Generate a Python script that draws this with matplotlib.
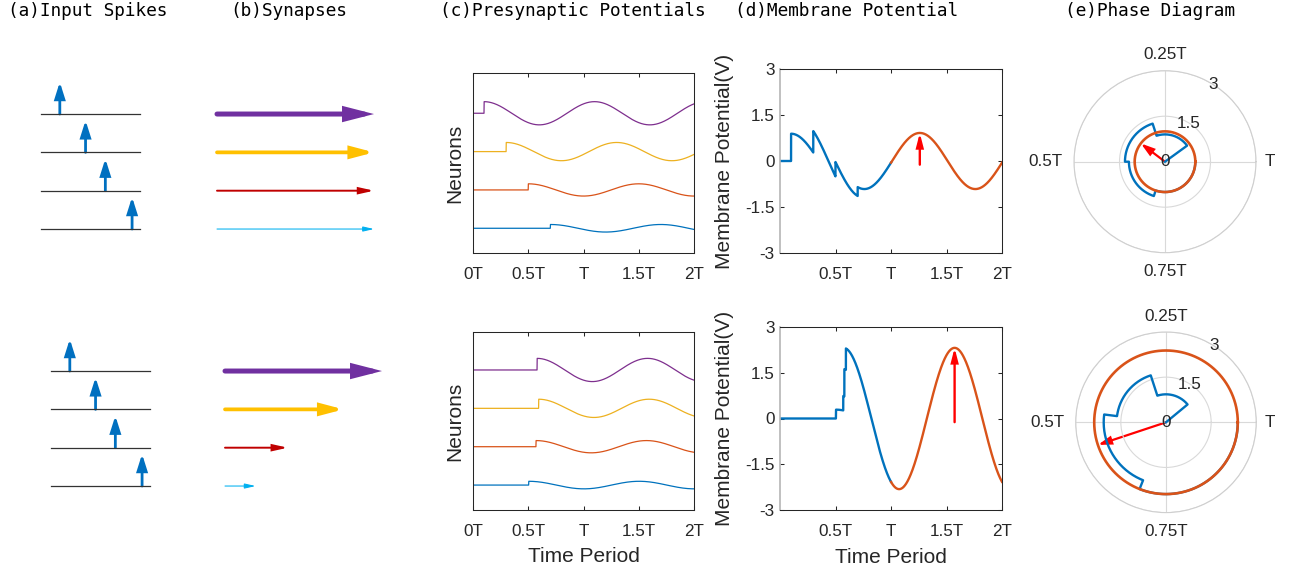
import numpy as np
import matplotlib
matplotlib.use('Agg')
import matplotlib.pyplot as plt
from matplotlib.patches import FancyArrowPatch

# ---------------- data ----------------
titles = ['(a)Input Spikes', '(b)Synapses', '(c)Presynaptic Potentials',
          '(d)Membrane Potential', '(e)Phase Diagram']

# (a) spike positions along each input line (fraction of line length), top line first
spike_pos = [0.19, 0.45, 0.65, 0.92]

# (b) relative synapse arrow lengths, purple / yellow / red / cyan
syn_len_top = [1.0, 1.0, 1.0, 1.0]
syn_len_bot = [1.0, 0.755, 0.40, 0.195]

# (c)/(d) synaptic weights and arrival times (in periods T), purple / yellow / orange / blue
weights = [0.89, 0.70, 0.47, 0.29]
arrive_top = [0.10, 0.30, 0.50, 0.70]
arrive_bot = [0.58, 0.594, 0.57, 0.504]
presyn_scale = 0.34
neuron_rows = [4, 3, 2, 1]

time_ticks = [0, 0.5, 1, 1.5, 2]
time_labels = ['0T', '0.5T', 'T', '1.5T', '2T']
v_ticks = [-3, -1.5, 0, 1.5, 3]
v_labels = ['-3', '-1.5', '0', '1.5', '3']

# (e) phase diagram: step phases (T) and radii of the blue trace, red arrow phase
polar_step_top = [0.10, 0.30, 0.50, 0.70]
polar_r_top = [0.90, 1.32, 1.19, 1.00]
polar_step_bot = [0.11, 0.30, 0.48, 0.69]
polar_r_bot = [0.93, 1.64, 2.07, 2.385]
arrow_phase_top = 0.397
arrow_phase_bot = 0.551
theta_labels = ['T', '0.25T', '0.5T', '0.75T']

# ---------------- styles ----------------
syn_colors = ['#7030A0', '#FFC000', '#C00000', '#00B0F0']
syn_lw = [3.6, 2.7, 1.4, 0.75]
syn_head = [(14, 3.6), (12.5, 3.3), (8.5, 1.9), (6.5, 1.5)]
neuron_colors = ['#7E2F8E', '#EDB120', '#D95319', '#0072BD']
BLUE = '#0072BD'
ORANGE = '#D95319'
TXT = '#262626'

plt.rcParams['font.family'] = ['Liberation Sans', 'DejaVu Sans']

W, H = 1289, 574
fig = plt.figure(figsize=(W / 100, H / 100), dpi=100)


def px_axes(l, t, r, b, **kw):
    return fig.add_axes([l / W, 1 - b / H, (r - l) / W, (b - t) / H], **kw)


def arrow(ax, p0, p1, color, lw, hl, hw):
    a = FancyArrowPatch(p0, p1, arrowstyle=f'-|>,head_length={hl},head_width={hw}',
                        mutation_scale=1, lw=lw, color=color, shrinkA=0, shrinkB=0,
                        capstyle='round', joinstyle='miter', clip_on=False)
    ax.add_patch(a)


def presyn(t, ti, wi):
    return np.where(t >= ti, wi * np.cos(2 * np.pi * (t - ti)), 0.0)


title_x = [8, 230, 440, 735, 1065]
for s, x in zip(titles, title_x):
    fig.text(x / W, 1 - 11 / H, s, family='DejaVu Sans Mono', fontsize=12.8,
             ha='left', va='center', color='black')

t = np.linspace(0, 2, 4001)

rows_px = [(75.7, 248.2), (332.7, 505.2)]
a_x = [(41, 140), (51, 150)]
b_x = [(217, 374), (225, 382)]
c_box = [(473, 73, 694, 253), (473, 332, 694, 510)]
c_ylim = [(0.355, 5.05), (0.35, 4.99)]
d_box = [(780, 69, 1002, 253), (780, 327, 1002, 510)]
e_box = [(1074, 70.7, 1256, 252.7), (1075.7, 332, 1256.3, 512.6)]

for k in range(2):
    top, bot = rows_px[k]
    # (a) input spikes
    ax = px_axes(a_x[k][0], top, a_x[k][1], bot)
    ax.set_xlim(0, 1)
    ax.set_ylim(0.5, 5.0)
    ax.axis('off')
    for row, sp in zip(neuron_rows, spike_pos):
        ax.plot([0, 1], [row, row], color='#333333', lw=0.9, clip_on=False)
        arrow(ax, (sp, row), (sp, row + 0.835), '#0070C0', 2.0, 9.5, 3.0)

    # (b) synapses
    ax = px_axes(b_x[k][0], top, b_x[k][1], bot)
    ax.set_xlim(0, 1)
    ax.set_ylim(0.5, 5.0)
    ax.axis('off')
    lens = syn_len_top if k == 0 else syn_len_bot
    for i, row in enumerate(neuron_rows):
        arrow(ax, (0, row), (lens[i], row), syn_colors[i], syn_lw[i], *syn_head[i])

    arrive = arrive_top if k == 0 else arrive_bot

    # (c) presynaptic potentials
    ax = px_axes(*c_box[k])
    for i, row in enumerate(neuron_rows):
        ax.plot(t, row + presyn_scale * presyn(t, arrive[i], weights[i]),
                color=neuron_colors[i], lw=0.9)
    ax.set_xlim(0, 2)
    ax.set_ylim(*c_ylim[k])
    ax.set_yticks([])
    ax.set_xticks(time_ticks, time_labels)
    ax.set_ylabel('Neurons', fontsize=15, color=TXT)
    ax.yaxis.label.set_va('center')
    ax.yaxis.set_label_coords(-0.081, 0.5)
    if k == 1:
        ax.set_xlabel('Time Period', fontsize=15, color=TXT)
        ax.xaxis.label.set_va('center')
        ax.xaxis.set_label_coords(0.5, -0.264)
    ax.tick_params(direction='in', length=3, width=0.75, top=True, right=True,
                   labelsize=12.3, colors=TXT)
    ax.tick_params(axis='x', pad=10)
    for sp in ax.spines.values():
        sp.set_linewidth(0.75)
        sp.set_color(TXT)

    # (d) membrane potential
    ax = px_axes(*d_box[k])
    v = sum(presyn(t, arrive[i], weights[i]) for i in range(4))
    first = t <= 1
    ax.plot(t[first], v[first], color=BLUE, lw=1.7)
    ax.plot(t[~first], v[~first], color=ORANGE, lw=1.7)
    late = t >= 1
    ip = np.argmax(np.where(late, v, -np.inf))
    arrow(ax, (t[ip], -0.12), (t[ip], v[ip]), '#FF0000', 1.7, 7.8, 2.0)
    ax.set_xlim(0, 2)
    ax.set_ylim(-3, 3)
    ax.set_xticks(time_ticks[1:], time_labels[1:])
    ax.set_yticks(v_ticks, v_labels)
    ax.set_ylabel('Membrane Potential(V)', fontsize=15, color=TXT)
    ax.yaxis.label.set_va('center')
    ax.yaxis.set_label_coords(-0.248, 0.5)
    if k == 1:
        ax.set_xlabel('Time Period', fontsize=15, color=TXT)
        ax.xaxis.label.set_va('center')
        ax.xaxis.set_label_coords(0.5, -0.257)
    ax.tick_params(direction='in', length=3, width=0.75, top=True, right=True,
                   labelsize=12.3, colors=TXT)
    ax.tick_params(axis='x', pad=10)
    ax.tick_params(axis='y', pad=4)
    for sp in ax.spines.values():
        sp.set_linewidth(0.75)
        sp.set_color(TXT)
    ax.spines['left'].set_color('#b5b5b5')
    ax.spines['left'].set_linewidth(1.2)

    # (e) phase diagram
    ax = px_axes(*e_box[k], projection='polar')
    steps = polar_step_top if k == 0 else polar_step_bot
    radii = polar_r_top if k == 0 else polar_r_bot
    th = [0.0, steps[0]]
    rr = [0.0, 0.0]
    for j in range(len(steps)):
        end = steps[j + 1] if j + 1 < len(steps) else 1.0
        arc = np.linspace(steps[j], end, 80)
        th += list(arc)
        rr += [radii[j]] * len(arc)
    ax.plot(2 * np.pi * np.array(th), rr, color=BLUE, lw=1.7)
    circ = np.linspace(0, 2 * np.pi, 361)
    ax.plot(circ, np.full_like(circ, radii[-1]), color=ORANGE, lw=1.9)
    ph = arrow_phase_top if k == 0 else arrow_phase_bot
    arrow(ax, (0, 0), (2 * np.pi * ph, radii[-1]), '#FF0000', 1.6, 7.5, 2.3)
    ax.set_ylim(0, 3)
    ax.set_yticks([0, 1.5, 3])
    ax.set_yticklabels([])
    ax.set_xticks([0, np.pi / 2, np.pi, 3 * np.pi / 2])
    ax.set_xticklabels([])
    ax.grid(True, color='#d9d9d9', lw=0.8)
    ax.spines['polar'].set_color('#cfcfcf')
    ax.spines['polar'].set_linewidth(0.8)
    for rv, lab in zip([0, 1.5, 3], ['0', '1.5', '3']):
        ax.text(np.deg2rad(58), rv, lab, ha='center', va='center', fontsize=12.3, color=TXT)
    pos = [(0, 3.28, 'left', 'center'), (np.pi / 2, 3.28, 'center', 'bottom'),
           (np.pi, 3.38, 'right', 'center'), (3 * np.pi / 2, 3.38, 'center', 'top')]
    for (ang, rv, ha, va), lab in zip(pos, theta_labels):
        ax.text(ang, rv, lab, ha=ha, va=va, fontsize=12.3, color=TXT, clip_on=False)

fig.savefig('out.png', dpi=100)
